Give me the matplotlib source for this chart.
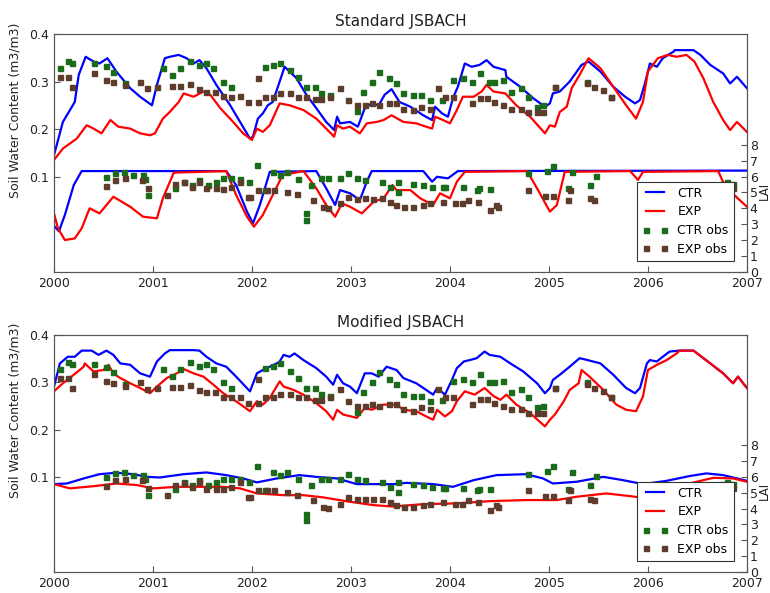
import matplotlib
matplotlib.use("Agg")
import matplotlib.pyplot as plt
from matplotlib.lines import Line2D

# ---------------- data (decimal years, values) ----------------
# Standard JSBACH - soil water content (left axis)
std_ctr_swc_t = [2000.0, 2000.09, 2000.21, 2000.25, 2000.32, 2000.40, 2000.46, 2000.54, 2000.63, 2000.77, 2000.87, 2000.99,
                 2001.04, 2001.12, 2001.17, 2001.26, 2001.34, 2001.41, 2001.47, 2001.54, 2001.64, 2001.78, 2001.88, 2001.98,
                 2002.01, 2002.06, 2002.11, 2002.16, 2002.21, 2002.28, 2002.33, 2002.38, 2002.45, 2002.55, 2002.65, 2002.75,
                 2002.83, 2002.86, 2002.89, 2002.99, 2003.07, 2003.14, 2003.21, 2003.28, 2003.34, 2003.41, 2003.49, 2003.60,
                 2003.73, 2003.82, 2003.85, 2003.92, 2003.98, 2004.03, 2004.08, 2004.15, 2004.22, 2004.30, 2004.37, 2004.44,
                 2004.56, 2004.57, 2004.71, 2004.84, 2004.96, 2005.01, 2005.04, 2005.11, 2005.21, 2005.33, 2005.40, 2005.52,
                 2005.65, 2005.77, 2005.87, 2005.92, 2005.97, 2006.02, 2006.09, 2006.15, 2006.26, 2006.27, 2006.46, 2006.53,
                 2006.63, 2006.76, 2006.83, 2006.90, 2007.0]
std_ctr_swc_v = [0.145, 0.215, 0.257, 0.314, 0.352, 0.342, 0.338, 0.349, 0.321, 0.286, 0.268, 0.250,
                 0.293, 0.349, 0.352, 0.356, 0.349, 0.338, 0.345, 0.328, 0.293, 0.250, 0.215, 0.180,
                 0.184, 0.222, 0.233, 0.250, 0.257, 0.300, 0.331, 0.321, 0.307, 0.272, 0.244, 0.215,
                 0.198, 0.226, 0.212, 0.215, 0.205, 0.244, 0.254, 0.250, 0.272, 0.284, 0.257, 0.247,
                 0.229, 0.219, 0.247, 0.233, 0.226, 0.265, 0.289, 0.338, 0.331, 0.335, 0.345, 0.331,
                 0.324, 0.310, 0.289, 0.265, 0.247, 0.254, 0.275, 0.279, 0.300, 0.335, 0.342, 0.321,
                 0.289, 0.268, 0.254, 0.261, 0.296, 0.338, 0.331, 0.349, 0.363, 0.366, 0.366, 0.356,
                 0.335, 0.317, 0.296, 0.310, 0.286]
std_exp_swc_t = [2000.0, 2000.09, 2000.23, 2000.33, 2000.40, 2000.48, 2000.57, 2000.65, 2000.77, 2000.87, 2000.97, 2001.02,
                 2001.10, 2001.17, 2001.26, 2001.31, 2001.41, 2001.51, 2001.58, 2001.68, 2001.81, 2001.91, 2002.00, 2002.05,
                 2002.11, 2002.18, 2002.28, 2002.38, 2002.52, 2002.65, 2002.75, 2002.83, 2002.86, 2002.92, 2002.99, 2003.09,
                 2003.16, 2003.26, 2003.33, 2003.41, 2003.53, 2003.66, 2003.76, 2003.82, 2003.85, 2003.93, 2004.00, 2004.07,
                 2004.13, 2004.24, 2004.32, 2004.37, 2004.44, 2004.56, 2004.67, 2004.81, 2004.96, 2005.01, 2005.06, 2005.11,
                 2005.18, 2005.23, 2005.31, 2005.40, 2005.52, 2005.65, 2005.78, 2005.88, 2005.95, 2006.00, 2006.10, 2006.20,
                 2006.29, 2006.39, 2006.47, 2006.56, 2006.66, 2006.76, 2006.83, 2006.90, 2007.0]
std_exp_swc_v = [0.135, 0.159, 0.180, 0.208, 0.201, 0.191, 0.219, 0.205, 0.201, 0.191, 0.187, 0.191,
                 0.222, 0.236, 0.257, 0.275, 0.268, 0.279, 0.272, 0.244, 0.215, 0.191, 0.177, 0.201,
                 0.194, 0.208, 0.254, 0.250, 0.240, 0.222, 0.201, 0.184, 0.208, 0.201, 0.205, 0.191,
                 0.212, 0.215, 0.219, 0.229, 0.215, 0.212, 0.205, 0.201, 0.226, 0.219, 0.212, 0.240,
                 0.268, 0.268, 0.279, 0.293, 0.279, 0.275, 0.250, 0.226, 0.191, 0.208, 0.205, 0.236,
                 0.247, 0.286, 0.314, 0.349, 0.328, 0.289, 0.250, 0.222, 0.257, 0.321, 0.349, 0.356,
                 0.352, 0.356, 0.342, 0.307, 0.257, 0.219, 0.198, 0.215, 0.194]
# Standard JSBACH - LAI (right axis)
std_ctr_lai_t = [2000.0, 2000.05, 2000.11, 2000.20, 2000.28, 2001.74, 2001.84, 2001.95, 2002.01, 2002.08, 2002.18, 2002.65,
                 2002.75, 2002.84, 2002.89, 2002.99, 2003.09, 2003.16, 2003.21, 2003.73, 2003.82, 2003.87, 2003.98, 2004.08, 2007.0]
std_ctr_lai_v = [2.9, 2.55, 3.58, 5.47, 6.35, 6.35, 5.47, 3.79, 3.05, 4.21, 6.3, 6.35,
                 5.26, 4.21, 5.15, 4.95, 4.52, 5.68, 6.35, 6.35, 5.68, 5.99, 5.89, 6.35, 6.38]
std_exp_lai_t = [2000.0, 2000.04, 2000.11, 2000.21, 2000.28, 2000.36, 2000.46, 2000.60, 2000.77, 2000.90, 2001.04, 2001.10,
                 2001.21, 2001.74, 2001.84, 2001.95, 2002.02, 2002.11, 2002.21, 2002.31, 2002.52, 2002.65, 2002.75, 2002.84,
                 2002.91, 2002.99, 2003.11, 2003.23, 2003.33, 2003.42, 2003.46, 2003.60, 2003.70, 2003.83, 2003.90, 2004.00,
                 2004.07, 2004.15, 2004.78, 2004.88, 2005.01, 2005.08, 2005.16, 2005.82, 2005.90, 2005.95, 2006.71, 2006.78,
                 2007.0]
std_exp_lai_v = [3.68, 2.74, 2.0, 2.1, 2.74, 4.0, 3.68, 4.73, 4.1, 3.47, 3.37, 4.63,
                 6.25, 6.35, 4.84, 3.47, 2.84, 3.58, 4.84, 6.1, 6.35, 5.26, 4.21, 3.47,
                 4.31, 4.10, 3.68, 4.42, 4.63, 5.47, 5.15, 5.15, 4.63, 4.21, 4.95, 4.63,
                 5.68, 6.3, 6.35, 5.26, 3.79, 4.21, 6.3, 6.35, 5.79, 6.3, 6.35, 5.37,
                 4.1]

# Modified JSBACH - soil water content (left axis)
mod_ctr_swc_t = [2000.0, 2000.06, 2000.14, 2000.21, 2000.28, 2000.38, 2000.45, 2000.53, 2000.60, 2000.67, 2000.77, 2000.87,
                 2000.97, 2001.04, 2001.12, 2001.17, 2001.41, 2001.47, 2001.54, 2001.64, 2001.74, 2001.84, 2001.98, 2002.05,
                 2002.11, 2002.18, 2002.25, 2002.28, 2002.32, 2002.38, 2002.43, 2002.52, 2002.65, 2002.75, 2002.82, 2002.86,
                 2002.92, 2002.99, 2003.06, 2003.14, 2003.21, 2003.28, 2003.36, 2003.46, 2003.53, 2003.66, 2003.76, 2003.83,
                 2003.87, 2003.95, 2004.02, 2004.07, 2004.14, 2004.20, 2004.27, 2004.35, 2004.40, 2004.51, 2004.61, 2004.74,
                 2004.88, 2004.96, 2005.01, 2005.04, 2005.11, 2005.21, 2005.31, 2005.39, 2005.52, 2005.65, 2005.78, 2005.87,
                 2005.92, 2005.99, 2006.02, 2006.09, 2006.15, 2006.22, 2006.32, 2006.46, 2006.63, 2006.76, 2006.86, 2006.91,
                 2007.0]
mod_ctr_swc_v = [0.291, 0.340, 0.354, 0.354, 0.367, 0.367, 0.358, 0.367, 0.358, 0.340, 0.337, 0.319,
                 0.312, 0.344, 0.361, 0.368, 0.368, 0.367, 0.354, 0.340, 0.333, 0.312, 0.281, 0.319,
                 0.326, 0.333, 0.340, 0.344, 0.358, 0.354, 0.361, 0.347, 0.330, 0.312, 0.295, 0.316,
                 0.298, 0.291, 0.277, 0.319, 0.319, 0.312, 0.333, 0.326, 0.309, 0.298, 0.284, 0.274,
                 0.288, 0.274, 0.305, 0.330, 0.344, 0.347, 0.351, 0.365, 0.358, 0.354, 0.340, 0.323,
                 0.298, 0.277, 0.288, 0.305, 0.316, 0.333, 0.351, 0.347, 0.340, 0.316, 0.288, 0.277,
                 0.288, 0.340, 0.347, 0.344, 0.354, 0.365, 0.367, 0.367, 0.340, 0.319, 0.298, 0.312,
                 0.288]
mod_exp_swc_t = [2000.0, 2000.09, 2000.20, 2000.30, 2000.31, 2000.40, 2000.50, 2000.55, 2000.60, 2000.67, 2000.77, 2000.87,
                 2000.97, 2001.04, 2001.14, 2001.24, 2001.31, 2001.41, 2001.51, 2001.61, 2001.71, 2001.84, 2001.98, 2002.05,
                 2002.11, 2002.18, 2002.28, 2002.32, 2002.42, 2002.52, 2002.65, 2002.75, 2002.82, 2002.86, 2002.92, 2003.06,
                 2003.14, 2003.21, 2003.33, 2003.46, 2003.53, 2003.66, 2003.76, 2003.83, 2003.87, 2003.95, 2004.02, 2004.07,
                 2004.15, 2004.25, 2004.35, 2004.44, 2004.51, 2004.57, 2004.67, 2004.81, 2004.96, 2005.01, 2005.06, 2005.15,
                 2005.21, 2005.30, 2005.33, 2005.41, 2005.55, 2005.68, 2005.78, 2005.88, 2005.95, 2006.00, 2006.09, 2006.19,
                 2006.29, 2006.32, 2006.46, 2006.63, 2006.76, 2006.86, 2006.91, 2007.0]
mod_exp_swc_v = [0.281, 0.298, 0.316, 0.333, 0.340, 0.323, 0.326, 0.337, 0.319, 0.309, 0.298, 0.288,
                 0.277, 0.291, 0.309, 0.319, 0.328, 0.319, 0.312, 0.295, 0.277, 0.260, 0.239, 0.260,
                 0.253, 0.267, 0.302, 0.291, 0.284, 0.274, 0.256, 0.239, 0.221, 0.242, 0.232, 0.225,
                 0.246, 0.242, 0.253, 0.253, 0.242, 0.239, 0.228, 0.221, 0.242, 0.228, 0.239, 0.260,
                 0.281, 0.274, 0.288, 0.271, 0.263, 0.274, 0.253, 0.235, 0.207, 0.221, 0.232, 0.260,
                 0.284, 0.298, 0.326, 0.312, 0.284, 0.253, 0.242, 0.239, 0.270, 0.326, 0.337, 0.347,
                 0.361, 0.367, 0.367, 0.340, 0.319, 0.298, 0.312, 0.288]
# Modified JSBACH - LAI (right axis)
mod_ctr_lai_t = [2000.0, 2000.13, 2000.30, 2000.46, 2000.63, 2000.80, 2000.94, 2001.07, 2001.31, 2001.54, 2001.74, 2001.91,
                 2002.05, 2002.25, 2002.48, 2002.65, 2002.86, 2003.06, 2003.23, 2003.43, 2003.56, 2003.83, 2004.03, 2004.24,
                 2004.47, 2004.77, 2004.94, 2005.04, 2005.28, 2005.55, 2005.75, 2005.95, 2006.19, 2006.42, 2006.59, 2006.76,
                 2007.0]
mod_ctr_lai_v = [5.55, 5.59, 5.91, 6.18, 6.27, 6.18, 6.01, 5.97, 6.18, 6.29, 6.12, 5.91,
                 5.66, 5.91, 6.12, 6.01, 5.91, 5.55, 5.55, 5.55, 5.63, 5.55, 5.38, 5.80,
                 6.12, 6.18, 5.91, 5.59, 5.70, 6.01, 5.80, 5.55, 5.76, 6.06, 6.23, 6.12,
                 5.76]
mod_exp_lai_t = [2000.0, 2000.16, 2000.40, 2000.63, 2000.84, 2001.00, 2001.24, 2001.47, 2001.71, 2001.88, 2002.05, 2002.32,
                 2002.52, 2002.72, 2002.99, 2003.23, 2003.42, 2003.73, 2004.07, 2004.40, 2004.77, 2005.08, 2005.28, 2005.58,
                 2005.82, 2005.99, 2006.19, 2006.42, 2006.66, 2006.86, 2007.0]
mod_exp_lai_v = [5.55, 5.28, 5.42, 5.59, 5.49, 5.28, 5.38, 5.38, 5.38, 5.28, 4.96, 4.85,
                 4.85, 4.71, 4.43, 4.22, 4.13, 4.28, 4.33, 4.47, 4.54, 4.54, 4.75, 4.96,
                 4.79, 4.65, 4.96, 5.59, 5.95, 5.91, 5.70]

# Observations (shared by both panels)
obs_ctr_swc_t = [2000.06, 2000.14, 2000.18, 2000.40, 2000.53, 2000.60, 2000.72, 2001.10, 2001.19, 2001.27, 2001.37, 2001.46,
                 2001.54, 2001.61, 2001.71, 2001.79, 2002.13, 2002.21, 2002.28, 2002.38, 2002.47, 2002.55, 2002.64, 2002.70,
                 2002.79, 2003.06, 2003.12, 2003.21, 2003.28, 2003.38, 2003.46, 2003.53, 2003.63, 2003.71, 2003.80, 2003.92,
                 2004.03, 2004.13, 2004.22, 2004.30, 2004.39, 2004.45, 2004.54, 2004.62, 2004.72, 2004.79, 2004.88, 2004.94,
                 2005.06, 2005.38, 2005.63]
obs_ctr_swc_v = [0.328, 0.343, 0.338, 0.338, 0.333, 0.321, 0.296, 0.328, 0.314, 0.328, 0.343, 0.335,
                 0.338, 0.328, 0.300, 0.289, 0.331, 0.335, 0.340, 0.324, 0.309, 0.289, 0.289, 0.275,
                 0.272, 0.238, 0.279, 0.300, 0.321, 0.307, 0.296, 0.275, 0.272, 0.272, 0.261, 0.262,
                 0.303, 0.307, 0.300, 0.317, 0.300, 0.300, 0.303, 0.279, 0.286, 0.268, 0.247, 0.250,
                 0.289, 0.300, 0.268]
obs_exp_swc_t = [2000.06, 2000.14, 2000.18, 2000.40, 2000.53, 2000.60, 2000.72, 2000.87, 2000.94, 2001.04, 2001.19, 2001.27,
                 2001.37, 2001.46, 2001.54, 2001.63, 2001.71, 2001.79, 2001.88, 2001.96, 2002.06, 2002.06, 2002.13, 2002.21,
                 2002.28, 2002.38, 2002.47, 2002.55, 2002.64, 2002.70, 2002.79, 2002.89, 2002.97, 2003.06, 2003.14, 2003.21,
                 2003.28, 2003.38, 2003.46, 2003.53, 2003.63, 2003.71, 2003.80, 2003.88, 2003.95, 2004.03, 2004.22, 2004.30,
                 2004.37, 2004.45, 2004.54, 2004.62, 2004.72, 2004.79, 2004.88, 2004.94, 2005.06, 2005.38, 2005.46, 2005.55,
                 2005.63]
obs_exp_swc_v = [0.310, 0.310, 0.289, 0.317, 0.303, 0.298, 0.293, 0.300, 0.286, 0.289, 0.291, 0.291,
                 0.294, 0.284, 0.279, 0.279, 0.270, 0.268, 0.270, 0.257, 0.257, 0.307, 0.268, 0.268,
                 0.275, 0.275, 0.268, 0.268, 0.263, 0.263, 0.268, 0.286, 0.261, 0.250, 0.250, 0.254,
                 0.250, 0.254, 0.254, 0.243, 0.240, 0.247, 0.243, 0.286, 0.268, 0.268, 0.254, 0.265,
                 0.265, 0.257, 0.250, 0.243, 0.243, 0.236, 0.236, 0.236, 0.289, 0.296, 0.289, 0.282,
                 0.268]
obs_ctr_lai_t = [2000.53, 2000.62, 2000.71, 2000.80, 2000.90, 2000.92, 2000.95, 2001.22, 2001.31, 2001.39, 2001.47, 2001.56,
                 2001.64, 2001.71, 2001.79, 2001.88, 2001.97, 2002.05, 2002.13, 2002.21, 2002.28, 2002.35, 2002.47, 2002.60,
                 2002.55, 2002.55, 2002.70, 2002.77, 2002.89, 2002.97, 2003.06, 2003.14, 2003.31, 2003.39, 2003.48, 2003.48,
                 2003.63, 2003.73, 2003.82, 2003.93, 2003.95, 2004.13, 2004.27, 2004.29, 2004.40, 2004.79, 2004.98, 2005.04,
                 2005.23, 2005.19, 2005.41, 2005.48, 2006.58, 2006.75, 2006.80, 2006.86]
obs_ctr_lai_v = [5.99, 6.25, 6.31, 6.10, 6.10, 5.85, 4.84, 5.26, 5.68, 5.47, 5.79, 5.47,
                 5.68, 5.89, 5.89, 5.85, 5.68, 6.73, 5.15, 6.31, 6.10, 6.31, 5.85, 5.47,
                 3.68, 3.26, 5.89, 5.89, 5.89, 6.21, 5.89, 5.79, 5.68, 5.37, 5.68, 5.05,
                 5.53, 5.47, 5.37, 5.32, 5.32, 5.32, 5.15, 5.26, 5.22, 6.21, 6.37, 6.69,
                 6.31, 5.26, 5.47, 6.06, 5.47, 5.55, 5.68, 5.55]
obs_exp_lai_t = [2000.53, 2000.62, 2000.72, 2000.89, 2000.95, 2001.14, 2001.22, 2001.31, 2001.39, 2001.47, 2001.54, 2001.64,
                 2001.71, 2001.79, 2001.88, 2001.96, 2001.98, 2002.06, 2002.15, 2002.22, 2002.35, 2002.45, 2002.62, 2002.72,
                 2002.77, 2002.89, 2002.97, 2003.06, 2003.14, 2003.22, 2003.31, 2003.39, 2003.46, 2003.54, 2003.63, 2003.73,
                 2003.80, 2003.93, 2004.05, 2004.12, 2004.18, 2004.28, 2004.40, 2004.47, 2004.49, 2004.79, 2004.96, 2005.04,
                 2005.19, 2005.21, 2005.41, 2005.46, 2006.81, 2006.86]
obs_exp_lai_v = [5.43, 5.79, 5.89, 5.79, 5.30, 4.84, 5.51, 5.64, 5.37, 5.68, 5.26, 5.26,
                 5.22, 5.37, 5.68, 4.73, 4.73, 5.15, 5.15, 5.15, 5.05, 4.88, 4.52, 4.10,
                 4.04, 4.31, 4.73, 4.59, 4.63, 4.59, 4.63, 4.42, 4.21, 4.10, 4.10, 4.21,
                 4.31, 4.42, 4.31, 4.31, 4.52, 4.42, 3.89, 4.21, 4.10, 5.15, 4.79, 4.79,
                 4.52, 5.15, 4.63, 4.52, 5.15, 5.30]

titles = ["Standard JSBACH", "Modified JSBACH"]
year_ticks = [2000, 2001, 2002, 2003, 2004, 2005, 2006, 2007]
swc_ticks = [0.1, 0.2, 0.3, 0.4]
lai_ticks = [0, 1, 2, 3, 4, 5, 6, 7, 8]

# ---------------- plotting ----------------
CTR_C = "#0000ff"
EXP_C = "#ff0000"
OBS_CTR_C = "#1a6b1a"
OBS_EXP_C = "#5e3c2c"
SPINE_C = "#555555"
TXT_C = "#222222"

plt.rcParams["font.family"] = ["DejaVu Sans"]
fig = plt.figure(figsize=(7.7, 5.93), dpi=100)

panels = [
    (titles[0], [0.0701, 0.5418, 0.8999, 0.4009],
     (std_ctr_swc_t, std_ctr_swc_v, std_exp_swc_t, std_exp_swc_v,
      std_ctr_lai_t, std_ctr_lai_v, std_exp_lai_t, std_exp_lai_v)),
    (titles[1], [0.0701, 0.0359, 0.8999, 0.3992],
     (mod_ctr_swc_t, mod_ctr_swc_v, mod_exp_swc_t, mod_exp_swc_v,
      mod_ctr_lai_t, mod_ctr_lai_v, mod_exp_lai_t, mod_exp_lai_v)),
]

for title, rect, d in panels:
    ct, cv, et, ev, clt, clv, elt, elv = d
    ax = fig.add_axes(rect)
    ax2 = ax.twinx()
    ax.plot(ct, cv, color=CTR_C, lw=1.6, zorder=2)
    ax.plot(et, ev, color=EXP_C, lw=1.6, zorder=2)
    ax.plot(obs_ctr_swc_t, obs_ctr_swc_v, 's', color=OBS_CTR_C, ms=3.6, mec=OBS_CTR_C, zorder=3)
    ax.plot(obs_exp_swc_t, obs_exp_swc_v, 's', color=OBS_EXP_C, ms=3.6, mec=OBS_EXP_C, zorder=3)

    ax2.plot(clt, clv, color=CTR_C, lw=1.6)
    ax2.plot(elt, elv, color=EXP_C, lw=1.6)
    ax2.plot(obs_ctr_lai_t, obs_ctr_lai_v, 's', color=OBS_CTR_C, ms=3.6, mec=OBS_CTR_C)
    ax2.plot(obs_exp_lai_t, obs_exp_lai_v, 's', color=OBS_EXP_C, ms=3.6, mec=OBS_EXP_C)

    ax.set_xlim(2000, 2007)
    ax.set_ylim(-0.1, 0.4)
    ax2.set_ylim(0, 15)
    ax.set_xticks(year_ticks)
    ax.set_xticklabels([str(y) for y in year_ticks], fontsize=9)
    ax.set_yticks(swc_ticks)
    ax.set_yticklabels([f"{v:.1f}" for v in swc_ticks], fontsize=9)
    ax2.set_yticks(lai_ticks)
    ax2.set_yticklabels([str(v) for v in lai_ticks], fontsize=9)
    for a in (ax, ax2):
        a.tick_params(direction="in", length=4, color=SPINE_C, labelcolor=TXT_C)
        for s in a.spines.values():
            s.set_color(SPINE_C)
    ax2.tick_params(axis="y", pad=2)
    ax.set_ylabel("Soil Water Content (m3/m3)", fontsize=9, color=TXT_C)
    ax.yaxis.set_label_coords(-0.047, 0.68)
    ax2.set_ylabel("LAI", fontsize=8.5, color=TXT_C, rotation=90, va="center", ha="center")
    ax2.yaxis.set_label_coords(1.0245, 0.34)
    ax.set_title(title, fontsize=11, color=TXT_C, pad=6)

    handles = [Line2D([], [], color=CTR_C, lw=1.6),
               Line2D([], [], color=EXP_C, lw=1.6),
               Line2D([], [], ls="none", marker="s", color=OBS_CTR_C, ms=3.6),
               Line2D([], [], ls="none", marker="s", color=OBS_EXP_C, ms=3.6)]
    leg = ax2.legend(handles, ["CTR", "EXP", "CTR obs", "EXP obs"], loc="lower right",
                     bbox_to_anchor=(0.99, 0.02), fontsize=9, numpoints=2,
                     fancybox=False, framealpha=1, edgecolor="#333333",
                     borderpad=0.4, labelspacing=0.45, handlelength=2.0)
    leg.get_frame().set_linewidth(0.8)

fig.savefig("out.png", dpi=100)
